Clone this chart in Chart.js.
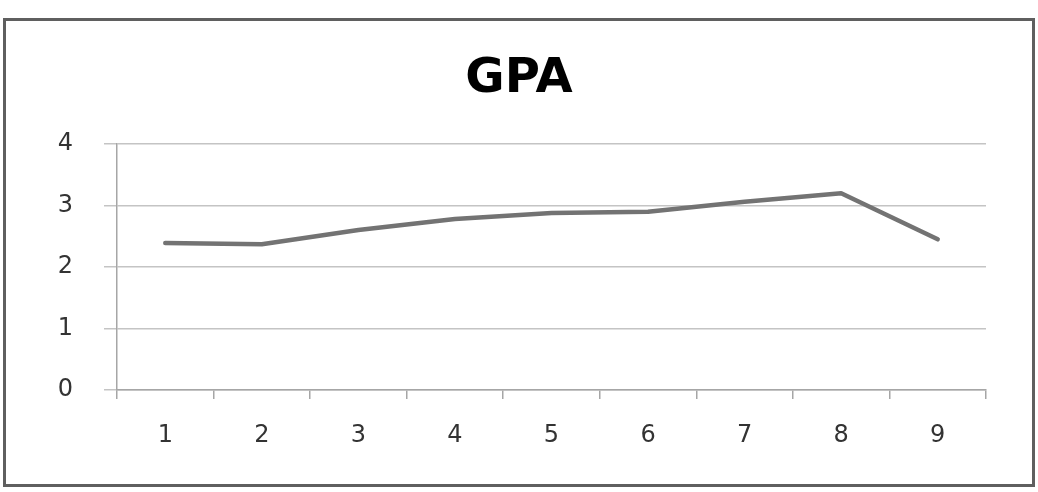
<!DOCTYPE html>
<html>
<head>
<meta charset="utf-8">
<script src="https://cdn.jsdelivr.net/npm/chart.js"></script>
<style>
  body { margin: 0; background: #fff; }
  #graficoGPA { position: absolute; left: 0; top: 0; }
  #moldura {
    position: absolute; left: 3px; top: 18px; width: 1026px; height: 463px;
    border: 3px solid #5f5f5f; pointer-events: none;
  }
</style>
</head>
<body>
<canvas id="graficoGPA" width="1038" height="492"></canvas>
<div id="moldura"></div>
<script>
// dados
const semestres = ["1", "2", "3", "4", "5", "6", "7", "8", "9"];
const gpa = [2.39, 2.37, 2.60, 2.78, 2.88, 2.90, 3.06, 3.20, 2.45];
const ticksY = [0, 1, 2, 3, 4];

new Chart(document.getElementById("graficoGPA"), {
    type: "line",
    data: {
        labels: semestres,
        datasets: [{
            label: "GPA",
            data: gpa,
            borderColor: "#737373",
            borderWidth: 4.5,
            pointRadius: 0,
            tension: 0,
            borderCapStyle: "round",
            borderJoinStyle: "round"
        }]
    },
    options: {
        responsive: false,
        animation: false,
        layout: { padding: { left: 52, right: 52, top: 0, bottom: 42 } },
        plugins: {
            legend: { display: false },
            tooltip: { enabled: false },
            title: {
                display: true,
                text: "GPA",
                color: "#000",
                font: { family: "DejaVu Sans", size: 48, weight: "bold", lineHeight: 1 },
                padding: { top: 56, bottom: 40 }
            }
        },
        scales: {
            x: {
                offset: true,
                afterFit: (scale) => { scale.height = 60; },
                grid: { offset: true, drawOnChartArea: false, tickLength: 9, color: "#a6a6a6", lineWidth: 1.5 },
                border: { color: "#a6a6a6", width: 1.5 },
                ticks: { color: "#333", padding: 22, font: { family: "DejaVu Sans", size: 24 } }
            },
            y: {
                min: 0,
                max: 4,
                afterFit: (scale) => { scale.width = 65; },
                afterBuildTicks: (scale) => { scale.ticks = ticksY.map(v => ({ value: v })); },
                grid: { tickLength: 13, color: "#c4c4c4", lineWidth: 1.5 },
                border: { color: "#a6a6a6", width: 1.5 },
                ticks: { color: "#333", padding: 31, font: { family: "DejaVu Sans", size: 24 } }
            }
        }
    }
});
</script>
</body>
</html>
